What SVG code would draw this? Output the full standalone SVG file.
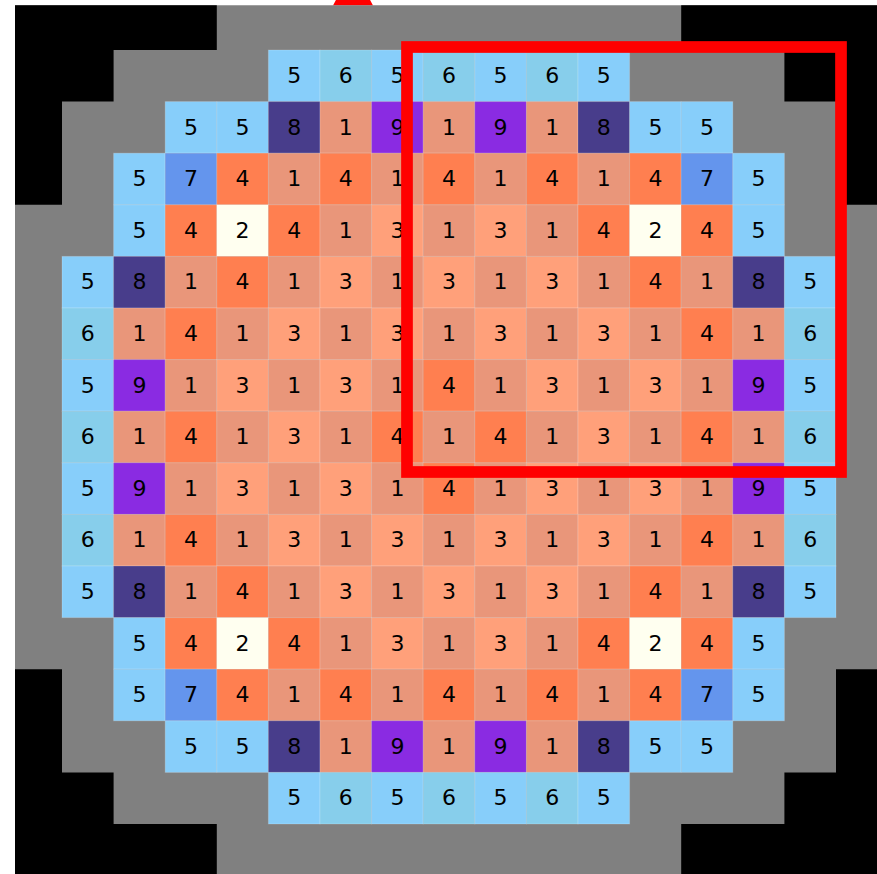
<svg xmlns="http://www.w3.org/2000/svg" width="877" height="874" viewBox="0 0 877 874">
<style>
rect.c{width:51.6px;height:51.6px;stroke:#ffffff;stroke-opacity:0.18;stroke-width:1}
.v1{fill:#E9967A}.v2{fill:#FFFFF0}.v3{fill:#FFA07A}.v4{fill:#FF7F50}.v5{fill:#87CEFA}.v6{fill:#87CEEB}.v7{fill:#6495ED}.v8{fill:#483D8B}.v9{fill:#8A2BE2}
text{font-family:"DejaVu Sans","Liberation Sans",sans-serif;font-size:22px;fill:#000;text-anchor:middle}
</style>
<defs>
<clipPath id="ax"><rect x="15" y="5.3" width="862" height="869"/></clipPath>
</defs>
<rect width="877" height="874" fill="#ffffff"/>
<polygon id="marker" points="333,5.5 373,5.5 353,-32" fill="#ff0000"/>
<g id="core" clip-path="url(#ax)">
<g id="reflector">
<rect x="10.4" y="-1.6" width="877.2" height="877.2" fill="#808080"/>
<g fill="#000000">
<polygon points="10.4,-1.6 216.8,-1.6 216.8,50 113.6,50 113.6,101.6 62,101.6 62,204.8 10.4,204.8"/>
<polygon points="887.6,-1.6 681.2,-1.6 681.2,50 784.4,50 784.4,101.6 836,101.6 836,204.8 887.6,204.8"/>
<polygon points="10.4,875.6 216.8,875.6 216.8,824 113.6,824 113.6,772.4 62,772.4 62,669.2 10.4,669.2"/>
<polygon points="887.6,875.6 681.2,875.6 681.2,824 784.4,824 784.4,772.4 836,772.4 836,669.2 887.6,669.2"/>
</g>
</g>
<g id="row1" transform="translate(0,50)">
<rect class="c v5" x="268.4"/><text x="294.2" y="33">5</text>
<rect class="c v6" x="320"/><text x="345.8" y="33">6</text>
<rect class="c v5" x="371.6"/><text x="397.4" y="33">5</text>
<rect class="c v6" x="423.2"/><text x="449" y="33">6</text>
<rect class="c v5" x="474.8"/><text x="500.6" y="33">5</text>
<rect class="c v6" x="526.4"/><text x="552.2" y="33">6</text>
<rect class="c v5" x="578"/><text x="603.8" y="33">5</text>
</g>
<g id="row2" transform="translate(0,101.6)">
<rect class="c v5" x="165.2"/><text x="191" y="33">5</text>
<rect class="c v5" x="216.8"/><text x="242.6" y="33">5</text>
<rect class="c v8" x="268.4"/><text x="294.2" y="33">8</text>
<rect class="c v1" x="320"/><text x="345.8" y="33">1</text>
<rect class="c v9" x="371.6"/><text x="397.4" y="33">9</text>
<rect class="c v1" x="423.2"/><text x="449" y="33">1</text>
<rect class="c v9" x="474.8"/><text x="500.6" y="33">9</text>
<rect class="c v1" x="526.4"/><text x="552.2" y="33">1</text>
<rect class="c v8" x="578"/><text x="603.8" y="33">8</text>
<rect class="c v5" x="629.6"/><text x="655.4" y="33">5</text>
<rect class="c v5" x="681.2"/><text x="707" y="33">5</text>
</g>
<g id="row3" transform="translate(0,153.2)">
<rect class="c v5" x="113.6"/><text x="139.4" y="33">5</text>
<rect class="c v7" x="165.2"/><text x="191" y="33">7</text>
<rect class="c v4" x="216.8"/><text x="242.6" y="33">4</text>
<rect class="c v1" x="268.4"/><text x="294.2" y="33">1</text>
<rect class="c v4" x="320"/><text x="345.8" y="33">4</text>
<rect class="c v1" x="371.6"/><text x="397.4" y="33">1</text>
<rect class="c v4" x="423.2"/><text x="449" y="33">4</text>
<rect class="c v1" x="474.8"/><text x="500.6" y="33">1</text>
<rect class="c v4" x="526.4"/><text x="552.2" y="33">4</text>
<rect class="c v1" x="578"/><text x="603.8" y="33">1</text>
<rect class="c v4" x="629.6"/><text x="655.4" y="33">4</text>
<rect class="c v7" x="681.2"/><text x="707" y="33">7</text>
<rect class="c v5" x="732.8"/><text x="758.6" y="33">5</text>
</g>
<g id="row4" transform="translate(0,204.8)">
<rect class="c v5" x="113.6"/><text x="139.4" y="33">5</text>
<rect class="c v4" x="165.2"/><text x="191" y="33">4</text>
<rect class="c v2" x="216.8"/><text x="242.6" y="33">2</text>
<rect class="c v4" x="268.4"/><text x="294.2" y="33">4</text>
<rect class="c v1" x="320"/><text x="345.8" y="33">1</text>
<rect class="c v3" x="371.6"/><text x="397.4" y="33">3</text>
<rect class="c v1" x="423.2"/><text x="449" y="33">1</text>
<rect class="c v3" x="474.8"/><text x="500.6" y="33">3</text>
<rect class="c v1" x="526.4"/><text x="552.2" y="33">1</text>
<rect class="c v4" x="578"/><text x="603.8" y="33">4</text>
<rect class="c v2" x="629.6"/><text x="655.4" y="33">2</text>
<rect class="c v4" x="681.2"/><text x="707" y="33">4</text>
<rect class="c v5" x="732.8"/><text x="758.6" y="33">5</text>
</g>
<g id="row5" transform="translate(0,256.4)">
<rect class="c v5" x="62"/><text x="87.8" y="33">5</text>
<rect class="c v8" x="113.6"/><text x="139.4" y="33">8</text>
<rect class="c v1" x="165.2"/><text x="191" y="33">1</text>
<rect class="c v4" x="216.8"/><text x="242.6" y="33">4</text>
<rect class="c v1" x="268.4"/><text x="294.2" y="33">1</text>
<rect class="c v3" x="320"/><text x="345.8" y="33">3</text>
<rect class="c v1" x="371.6"/><text x="397.4" y="33">1</text>
<rect class="c v3" x="423.2"/><text x="449" y="33">3</text>
<rect class="c v1" x="474.8"/><text x="500.6" y="33">1</text>
<rect class="c v3" x="526.4"/><text x="552.2" y="33">3</text>
<rect class="c v1" x="578"/><text x="603.8" y="33">1</text>
<rect class="c v4" x="629.6"/><text x="655.4" y="33">4</text>
<rect class="c v1" x="681.2"/><text x="707" y="33">1</text>
<rect class="c v8" x="732.8"/><text x="758.6" y="33">8</text>
<rect class="c v5" x="784.4"/><text x="810.2" y="33">5</text>
</g>
<g id="row6" transform="translate(0,308)">
<rect class="c v6" x="62"/><text x="87.8" y="33">6</text>
<rect class="c v1" x="113.6"/><text x="139.4" y="33">1</text>
<rect class="c v4" x="165.2"/><text x="191" y="33">4</text>
<rect class="c v1" x="216.8"/><text x="242.6" y="33">1</text>
<rect class="c v3" x="268.4"/><text x="294.2" y="33">3</text>
<rect class="c v1" x="320"/><text x="345.8" y="33">1</text>
<rect class="c v3" x="371.6"/><text x="397.4" y="33">3</text>
<rect class="c v1" x="423.2"/><text x="449" y="33">1</text>
<rect class="c v3" x="474.8"/><text x="500.6" y="33">3</text>
<rect class="c v1" x="526.4"/><text x="552.2" y="33">1</text>
<rect class="c v3" x="578"/><text x="603.8" y="33">3</text>
<rect class="c v1" x="629.6"/><text x="655.4" y="33">1</text>
<rect class="c v4" x="681.2"/><text x="707" y="33">4</text>
<rect class="c v1" x="732.8"/><text x="758.6" y="33">1</text>
<rect class="c v6" x="784.4"/><text x="810.2" y="33">6</text>
</g>
<g id="row7" transform="translate(0,359.6)">
<rect class="c v5" x="62"/><text x="87.8" y="33">5</text>
<rect class="c v9" x="113.6"/><text x="139.4" y="33">9</text>
<rect class="c v1" x="165.2"/><text x="191" y="33">1</text>
<rect class="c v3" x="216.8"/><text x="242.6" y="33">3</text>
<rect class="c v1" x="268.4"/><text x="294.2" y="33">1</text>
<rect class="c v3" x="320"/><text x="345.8" y="33">3</text>
<rect class="c v1" x="371.6"/><text x="397.4" y="33">1</text>
<rect class="c v4" x="423.2"/><text x="449" y="33">4</text>
<rect class="c v1" x="474.8"/><text x="500.6" y="33">1</text>
<rect class="c v3" x="526.4"/><text x="552.2" y="33">3</text>
<rect class="c v1" x="578"/><text x="603.8" y="33">1</text>
<rect class="c v3" x="629.6"/><text x="655.4" y="33">3</text>
<rect class="c v1" x="681.2"/><text x="707" y="33">1</text>
<rect class="c v9" x="732.8"/><text x="758.6" y="33">9</text>
<rect class="c v5" x="784.4"/><text x="810.2" y="33">5</text>
</g>
<g id="row8" transform="translate(0,411.2)">
<rect class="c v6" x="62"/><text x="87.8" y="33">6</text>
<rect class="c v1" x="113.6"/><text x="139.4" y="33">1</text>
<rect class="c v4" x="165.2"/><text x="191" y="33">4</text>
<rect class="c v1" x="216.8"/><text x="242.6" y="33">1</text>
<rect class="c v3" x="268.4"/><text x="294.2" y="33">3</text>
<rect class="c v1" x="320"/><text x="345.8" y="33">1</text>
<rect class="c v4" x="371.6"/><text x="397.4" y="33">4</text>
<rect class="c v1" x="423.2"/><text x="449" y="33">1</text>
<rect class="c v4" x="474.8"/><text x="500.6" y="33">4</text>
<rect class="c v1" x="526.4"/><text x="552.2" y="33">1</text>
<rect class="c v3" x="578"/><text x="603.8" y="33">3</text>
<rect class="c v1" x="629.6"/><text x="655.4" y="33">1</text>
<rect class="c v4" x="681.2"/><text x="707" y="33">4</text>
<rect class="c v1" x="732.8"/><text x="758.6" y="33">1</text>
<rect class="c v6" x="784.4"/><text x="810.2" y="33">6</text>
</g>
<g id="row9" transform="translate(0,462.8)">
<rect class="c v5" x="62"/><text x="87.8" y="33">5</text>
<rect class="c v9" x="113.6"/><text x="139.4" y="33">9</text>
<rect class="c v1" x="165.2"/><text x="191" y="33">1</text>
<rect class="c v3" x="216.8"/><text x="242.6" y="33">3</text>
<rect class="c v1" x="268.4"/><text x="294.2" y="33">1</text>
<rect class="c v3" x="320"/><text x="345.8" y="33">3</text>
<rect class="c v1" x="371.6"/><text x="397.4" y="33">1</text>
<rect class="c v4" x="423.2"/><text x="449" y="33">4</text>
<rect class="c v1" x="474.8"/><text x="500.6" y="33">1</text>
<rect class="c v3" x="526.4"/><text x="552.2" y="33">3</text>
<rect class="c v1" x="578"/><text x="603.8" y="33">1</text>
<rect class="c v3" x="629.6"/><text x="655.4" y="33">3</text>
<rect class="c v1" x="681.2"/><text x="707" y="33">1</text>
<rect class="c v9" x="732.8"/><text x="758.6" y="33">9</text>
<rect class="c v5" x="784.4"/><text x="810.2" y="33">5</text>
</g>
<g id="row10" transform="translate(0,514.4)">
<rect class="c v6" x="62"/><text x="87.8" y="33">6</text>
<rect class="c v1" x="113.6"/><text x="139.4" y="33">1</text>
<rect class="c v4" x="165.2"/><text x="191" y="33">4</text>
<rect class="c v1" x="216.8"/><text x="242.6" y="33">1</text>
<rect class="c v3" x="268.4"/><text x="294.2" y="33">3</text>
<rect class="c v1" x="320"/><text x="345.8" y="33">1</text>
<rect class="c v3" x="371.6"/><text x="397.4" y="33">3</text>
<rect class="c v1" x="423.2"/><text x="449" y="33">1</text>
<rect class="c v3" x="474.8"/><text x="500.6" y="33">3</text>
<rect class="c v1" x="526.4"/><text x="552.2" y="33">1</text>
<rect class="c v3" x="578"/><text x="603.8" y="33">3</text>
<rect class="c v1" x="629.6"/><text x="655.4" y="33">1</text>
<rect class="c v4" x="681.2"/><text x="707" y="33">4</text>
<rect class="c v1" x="732.8"/><text x="758.6" y="33">1</text>
<rect class="c v6" x="784.4"/><text x="810.2" y="33">6</text>
</g>
<g id="row11" transform="translate(0,566)">
<rect class="c v5" x="62"/><text x="87.8" y="33">5</text>
<rect class="c v8" x="113.6"/><text x="139.4" y="33">8</text>
<rect class="c v1" x="165.2"/><text x="191" y="33">1</text>
<rect class="c v4" x="216.8"/><text x="242.6" y="33">4</text>
<rect class="c v1" x="268.4"/><text x="294.2" y="33">1</text>
<rect class="c v3" x="320"/><text x="345.8" y="33">3</text>
<rect class="c v1" x="371.6"/><text x="397.4" y="33">1</text>
<rect class="c v3" x="423.2"/><text x="449" y="33">3</text>
<rect class="c v1" x="474.8"/><text x="500.6" y="33">1</text>
<rect class="c v3" x="526.4"/><text x="552.2" y="33">3</text>
<rect class="c v1" x="578"/><text x="603.8" y="33">1</text>
<rect class="c v4" x="629.6"/><text x="655.4" y="33">4</text>
<rect class="c v1" x="681.2"/><text x="707" y="33">1</text>
<rect class="c v8" x="732.8"/><text x="758.6" y="33">8</text>
<rect class="c v5" x="784.4"/><text x="810.2" y="33">5</text>
</g>
<g id="row12" transform="translate(0,617.6)">
<rect class="c v5" x="113.6"/><text x="139.4" y="33">5</text>
<rect class="c v4" x="165.2"/><text x="191" y="33">4</text>
<rect class="c v2" x="216.8"/><text x="242.6" y="33">2</text>
<rect class="c v4" x="268.4"/><text x="294.2" y="33">4</text>
<rect class="c v1" x="320"/><text x="345.8" y="33">1</text>
<rect class="c v3" x="371.6"/><text x="397.4" y="33">3</text>
<rect class="c v1" x="423.2"/><text x="449" y="33">1</text>
<rect class="c v3" x="474.8"/><text x="500.6" y="33">3</text>
<rect class="c v1" x="526.4"/><text x="552.2" y="33">1</text>
<rect class="c v4" x="578"/><text x="603.8" y="33">4</text>
<rect class="c v2" x="629.6"/><text x="655.4" y="33">2</text>
<rect class="c v4" x="681.2"/><text x="707" y="33">4</text>
<rect class="c v5" x="732.8"/><text x="758.6" y="33">5</text>
</g>
<g id="row13" transform="translate(0,669.2)">
<rect class="c v5" x="113.6"/><text x="139.4" y="33">5</text>
<rect class="c v7" x="165.2"/><text x="191" y="33">7</text>
<rect class="c v4" x="216.8"/><text x="242.6" y="33">4</text>
<rect class="c v1" x="268.4"/><text x="294.2" y="33">1</text>
<rect class="c v4" x="320"/><text x="345.8" y="33">4</text>
<rect class="c v1" x="371.6"/><text x="397.4" y="33">1</text>
<rect class="c v4" x="423.2"/><text x="449" y="33">4</text>
<rect class="c v1" x="474.8"/><text x="500.6" y="33">1</text>
<rect class="c v4" x="526.4"/><text x="552.2" y="33">4</text>
<rect class="c v1" x="578"/><text x="603.8" y="33">1</text>
<rect class="c v4" x="629.6"/><text x="655.4" y="33">4</text>
<rect class="c v7" x="681.2"/><text x="707" y="33">7</text>
<rect class="c v5" x="732.8"/><text x="758.6" y="33">5</text>
</g>
<g id="row14" transform="translate(0,720.8)">
<rect class="c v5" x="165.2"/><text x="191" y="33">5</text>
<rect class="c v5" x="216.8"/><text x="242.6" y="33">5</text>
<rect class="c v8" x="268.4"/><text x="294.2" y="33">8</text>
<rect class="c v1" x="320"/><text x="345.8" y="33">1</text>
<rect class="c v9" x="371.6"/><text x="397.4" y="33">9</text>
<rect class="c v1" x="423.2"/><text x="449" y="33">1</text>
<rect class="c v9" x="474.8"/><text x="500.6" y="33">9</text>
<rect class="c v1" x="526.4"/><text x="552.2" y="33">1</text>
<rect class="c v8" x="578"/><text x="603.8" y="33">8</text>
<rect class="c v5" x="629.6"/><text x="655.4" y="33">5</text>
<rect class="c v5" x="681.2"/><text x="707" y="33">5</text>
</g>
<g id="row15" transform="translate(0,772.4)">
<rect class="c v5" x="268.4"/><text x="294.2" y="33">5</text>
<rect class="c v6" x="320"/><text x="345.8" y="33">6</text>
<rect class="c v5" x="371.6"/><text x="397.4" y="33">5</text>
<rect class="c v6" x="423.2"/><text x="449" y="33">6</text>
<rect class="c v5" x="474.8"/><text x="500.6" y="33">5</text>
<rect class="c v6" x="526.4"/><text x="552.2" y="33">6</text>
<rect class="c v5" x="578"/><text x="603.8" y="33">5</text>
</g>
</g>
<rect id="highlight" x="407" y="47" width="434" height="425" fill="none" stroke="#ff0000" stroke-width="11.7"/>
</svg>
